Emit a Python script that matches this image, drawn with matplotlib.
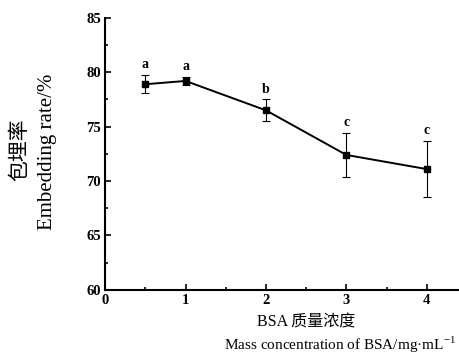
import matplotlib
matplotlib.use("Agg")
import matplotlib.pyplot as plt
from matplotlib.ticker import MultipleLocator

# data
conc = [0.5, 1, 2, 3, 4]
rate = [78.9, 79.2, 76.5, 72.4, 71.1]
err = [0.85, 0.4, 1.0, 2.0, 2.6]
letters = ["a", "a", "b", "c", "c"]

serif = ["Liberation Serif", "Noto Sans CJK SC"]
plt.rcParams["mathtext.fontset"] = "custom"
plt.rcParams["mathtext.rm"] = "Liberation Serif"

fig = plt.figure(figsize=(4.59, 3.57), dpi=100)
ax = fig.add_axes([0.229, 0.188, 0.771, 0.762])

ax.errorbar(conc, rate, yerr=err, color="black", lw=1.4, marker="s", ms=5,
            elinewidth=0.8, capsize=3, capthick=0.8)

for x, y, e, t in zip(conc, rate, err, letters):
    ax.text(x, y + e + 0.35, t, ha="center", va="bottom", fontsize=10,
            fontweight="bold", family=serif)

ax.set_xlim(0, 4.4)
ax.set_ylim(60, 85)
ax.set_xticks([0, 1, 2, 3, 4])
ax.set_yticks([60, 65, 70, 75, 80, 85])
ax.xaxis.set_minor_locator(MultipleLocator(0.5))
ax.yaxis.set_minor_locator(MultipleLocator(2.5))
ax.tick_params(which="both", direction="in", width=1.2, pad=3)
ax.tick_params(which="major", length=4)
ax.tick_params(which="minor", length=2.5)
for lab in ax.get_xticklabels() + ax.get_yticklabels():
    lab.set_family(serif)
    lab.set_fontweight("bold")
    lab.set_fontsize(10.5)

ax.spines["top"].set_visible(False)
ax.spines["right"].set_visible(False)
ax.spines["left"].set_linewidth(1.5)
ax.spines["bottom"].set_linewidth(1.5)

fig.text(21 / 459, 1 - 150 / 357, "包埋率", rotation=90, ha="center", va="center",
         fontsize=15, family=serif)
fig.text(48 / 459, 1 - 152 / 357, "Embedding rate/%", rotation=90, ha="center",
         va="center", fontsize=15, family=serif)
fig.text(306 / 459, 1 - 322 / 357, "BSA 质量浓度", ha="center", va="center",
         fontsize=11.5, family=serif)
fig.text(456 / 459, 1 - 345 / 357, r"Mass concentration of BSA/mg·mL$^{-1}$",
         ha="right", va="center", fontsize=11, family=serif)

fig.savefig("out.png", dpi=100)
